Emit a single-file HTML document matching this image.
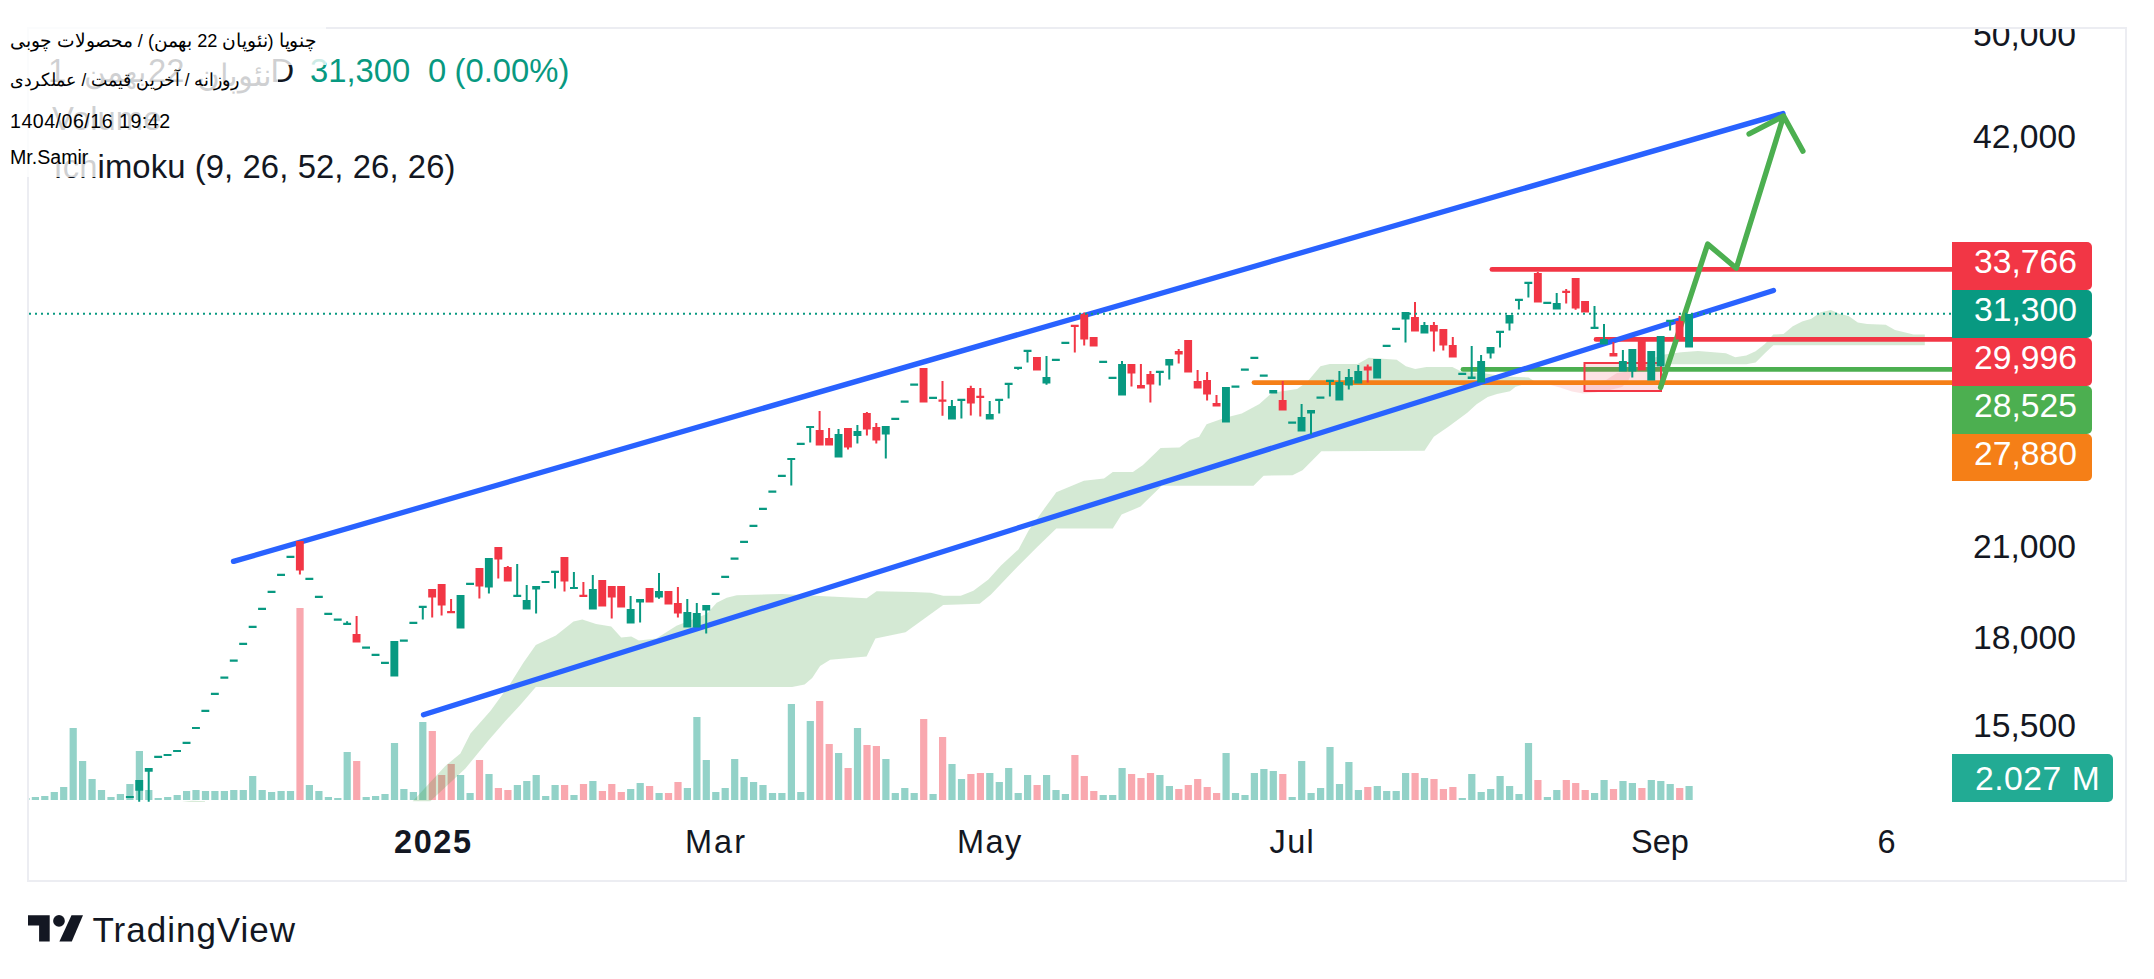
<!DOCTYPE html>
<html lang="en">
<head>
<meta charset="utf-8">
<title>TradingView chart</title>
<style>
html,body{margin:0;padding:0;background:#fff;}
body{width:2154px;height:979px;position:relative;overflow:hidden;font-family:"Liberation Sans",sans-serif;color:#131722;}
.chart{position:absolute;left:0;top:0;}
.t{position:absolute;white-space:nowrap;line-height:1;}
.ax{font-size:33.7px;left:1973px;}
.tag{position:absolute;left:1952px;width:140px;height:48px;border-radius:0 5px 5px 0;color:#fff;font-size:33.7px;line-height:1;}
.tag span{position:absolute;left:22px;top:3px;white-space:nowrap;}
.tm{font-size:32.5px;top:826px;}
.lg{font-size:32.8px;}
.ov{position:absolute;left:0;background:rgba(255,255,255,0.8);font-size:19.6px;line-height:1;white-space:nowrap;color:#000;}
.ov span{position:absolute;left:10px;white-space:nowrap;}
.clip{position:absolute;left:1900px;top:29px;width:226px;height:60px;overflow:hidden;}
</style>
</head>
<body>
<svg class="chart" width="2154" height="979" viewBox="0 0 2154 979">
<rect x="28" y="28" width="2098" height="853" fill="none" stroke="#ecedf2" stroke-width="2"/>
<path fill="#089981" fill-opacity="0.44" d="M29 798h0.6v2h-0.6zM31.8 797h7.2v3h-7.2zM41.2 796h7.2v4h-7.2zM50.7 792h7.2v8h-7.2zM60.1 787h7.2v13h-7.2zM69.6 728h7.2v72h-7.2zM79 761h7.2v39h-7.2zM88.5 779h7.2v21h-7.2zM97.9 790h7.2v10h-7.2zM107.4 797h7.2v3h-7.2zM116.8 794h7.2v6h-7.2zM126.3 784h7.2v16h-7.2zM135.8 751h7.2v49h-7.2zM145.2 790h7.2v10h-7.2zM154.6 798h7.2v2h-7.2zM164.1 797h7.2v3h-7.2zM173.6 795h7.2v5h-7.2zM183 791h7.2v9h-7.2zM192.4 790h7.2v10h-7.2zM201.9 791h7.2v9h-7.2zM211.3 791h7.2v9h-7.2zM220.8 791h7.2v9h-7.2zM230.2 790h7.2v10h-7.2zM239.7 790h7.2v10h-7.2zM249.1 776h7.2v24h-7.2zM258.6 790h7.2v10h-7.2zM268 792h7.2v8h-7.2zM277.5 791h7.2v9h-7.2zM286.9 791h7.2v9h-7.2zM305.8 785h7.2v15h-7.2zM315.3 791h7.2v9h-7.2zM324.8 797h7.2v3h-7.2zM334.2 798h7.2v2h-7.2zM343.6 752h7.2v48h-7.2zM362.6 797h7.2v3h-7.2zM372 796h7.2v4h-7.2zM381.4 794h7.2v6h-7.2zM390.9 743h7.2v57h-7.2zM400.3 789h7.2v11h-7.2zM409.8 792h7.2v8h-7.2zM419.2 722h7.2v78h-7.2zM457 775h7.2v25h-7.2zM466.5 793h7.2v7h-7.2zM485.4 774h7.2v26h-7.2zM513.8 785h7.2v15h-7.2zM523.2 781h7.2v19h-7.2zM532.6 775h7.2v25h-7.2zM542.1 796h7.2v4h-7.2zM551.5 785h7.2v15h-7.2zM570.4 795h7.2v5h-7.2zM589.3 781h7.2v19h-7.2zM627.1 789h7.2v11h-7.2zM636.6 783h7.2v17h-7.2zM655.5 793h7.2v7h-7.2zM683.8 788h7.2v12h-7.2zM693.3 717h7.2v83h-7.2zM702.7 760h7.2v40h-7.2zM712.2 792h7.2v8h-7.2zM721.6 788h7.2v12h-7.2zM731.1 759h7.2v41h-7.2zM740.5 777h7.2v23h-7.2zM750 782h7.2v18h-7.2zM759.4 785h7.2v15h-7.2zM768.9 793h7.2v7h-7.2zM778.3 793h7.2v7h-7.2zM787.8 704h7.2v96h-7.2zM797.2 792h7.2v8h-7.2zM806.7 721h7.2v79h-7.2zM835 753h7.2v47h-7.2zM853.9 728h7.2v72h-7.2zM882.3 759h7.2v41h-7.2zM891.7 793h7.2v7h-7.2zM901.2 788h7.2v12h-7.2zM910.6 793h7.2v7h-7.2zM929.5 794h7.2v6h-7.2zM948.4 764h7.2v36h-7.2zM957.9 779h7.2v21h-7.2zM986.2 773h7.2v27h-7.2zM995.7 782h7.2v18h-7.2zM1005.1 768h7.2v32h-7.2zM1014.6 793h7.2v7h-7.2zM1024 775h7.2v25h-7.2zM1043 775h7.2v25h-7.2zM1052.4 790h7.2v10h-7.2zM1061.8 794h7.2v6h-7.2zM1099.6 795h7.2v5h-7.2zM1109.1 795h7.2v5h-7.2zM1118.5 768h7.2v32h-7.2zM1156.3 775h7.2v25h-7.2zM1165.8 786h7.2v14h-7.2zM1222.5 753h7.2v47h-7.2zM1231.9 793h7.2v7h-7.2zM1241.4 795h7.2v5h-7.2zM1250.8 773h7.2v27h-7.2zM1260.3 769h7.2v31h-7.2zM1269.7 771h7.2v29h-7.2zM1288.6 797h7.2v3h-7.2zM1298.1 761h7.2v39h-7.2zM1307.5 793h7.2v7h-7.2zM1317 788h7.2v12h-7.2zM1326.4 747h7.2v53h-7.2zM1335.9 784h7.2v16h-7.2zM1345.3 762h7.2v38h-7.2zM1354.8 790h7.2v10h-7.2zM1373.7 786h7.2v14h-7.2zM1383.1 791h7.2v9h-7.2zM1392.6 791h7.2v9h-7.2zM1402 773h7.2v27h-7.2zM1420.9 778h7.2v22h-7.2zM1458.7 798h7.2v2h-7.2zM1468.2 774h7.2v26h-7.2zM1477.6 792h7.2v8h-7.2zM1487.1 789h7.2v11h-7.2zM1496.5 776h7.2v24h-7.2zM1506 786h7.2v14h-7.2zM1515.4 794h7.2v6h-7.2zM1524.9 743h7.2v57h-7.2zM1543.8 797h7.2v3h-7.2zM1553.2 790h7.2v10h-7.2zM1591 793h7.2v7h-7.2zM1600.5 780h7.2v20h-7.2zM1619.4 781h7.2v19h-7.2zM1628.8 783h7.2v17h-7.2zM1647.7 780h7.2v20h-7.2zM1657.2 781h7.2v19h-7.2zM1666.6 784h7.2v16h-7.2zM1685.5 786h7.2v14h-7.2z"/>
<path fill="#f23645" fill-opacity="0.43" d="M296.4 608h7.2v192h-7.2zM353.1 761h7.2v39h-7.2zM428.7 731h7.2v69h-7.2zM438.1 775h7.2v25h-7.2zM447.6 764h7.2v36h-7.2zM475.9 760h7.2v40h-7.2zM494.8 788h7.2v12h-7.2zM504.3 790h7.2v10h-7.2zM561 785h7.2v15h-7.2zM579.9 784h7.2v16h-7.2zM598.8 791h7.2v9h-7.2zM608.2 784h7.2v16h-7.2zM617.7 792h7.2v8h-7.2zM646 786h7.2v14h-7.2zM664.9 793h7.2v7h-7.2zM674.4 782h7.2v18h-7.2zM816.1 701h7.2v99h-7.2zM825.6 744h7.2v56h-7.2zM844.5 768h7.2v32h-7.2zM863.4 745h7.2v55h-7.2zM872.8 746h7.2v54h-7.2zM920.1 719h7.2v81h-7.2zM939 737h7.2v63h-7.2zM967.3 774h7.2v26h-7.2zM976.8 773h7.2v27h-7.2zM1033.5 785h7.2v15h-7.2zM1071.3 755h7.2v45h-7.2zM1080.7 776h7.2v24h-7.2zM1090.2 791h7.2v9h-7.2zM1128 774h7.2v26h-7.2zM1137.4 778h7.2v22h-7.2zM1146.9 773h7.2v27h-7.2zM1175.2 789h7.2v11h-7.2zM1184.7 785h7.2v15h-7.2zM1194.1 779h7.2v21h-7.2zM1203.6 787h7.2v13h-7.2zM1213 793h7.2v7h-7.2zM1279.2 774h7.2v26h-7.2zM1364.2 787h7.2v13h-7.2zM1411.5 773h7.2v27h-7.2zM1430.4 779h7.2v21h-7.2zM1439.8 789h7.2v11h-7.2zM1449.3 787h7.2v13h-7.2zM1534.3 780h7.2v20h-7.2zM1562.7 780h7.2v20h-7.2zM1572.1 783h7.2v17h-7.2zM1581.6 790h7.2v10h-7.2zM1609.9 789h7.2v11h-7.2zM1638.3 788h7.2v12h-7.2zM1676.1 788h7.2v12h-7.2z"/>
<path fill="#43a047" fill-opacity="0.23" d="M412.7 801.2 L445.3 766 L460.4 753.5 L470.5 733.4 L490.6 710.8 L510.7 683.1 L523.2 663 L535.8 644.9 L555.9 635.4 L573.5 621.6 L582.3 619.5 L596.1 624.1 L611.2 626.6 L621.2 637.4 L631.3 636.6 L638.8 640.4 L656.4 638.4 L676.5 625.8 L706.6 614 L716.7 602.7 L726.7 597.7 L736.8 595.2 L782 593.9 L819.7 595.9 L866.6 598.3 L876.6 591.3 L913.1 592 L930.7 592.8 L943.2 595.8 L960.8 595.8 L973.4 590.8 L988.4 579.4 L1001 565.6 L1018.6 549.3 L1028.6 530.5 L1041.2 512.9 L1056.3 492.3 L1083.9 480.7 L1104 478.4 L1112.8 471.9 L1132.9 471.9 L1143 465.1 L1160.6 448 L1179.4 447.5 L1189.4 440 L1199.1 436.8 L1206.6 424.2 L1224.2 417.9 L1241.8 413.4 L1259.4 404.1 L1272 392.8 L1297.1 389 L1307.1 382 L1320.4 366.2 L1329.7 364 L1357.6 364 L1368.8 357.8 L1396.7 359.7 L1405.9 366.2 L1415.2 369 L1426.4 367.1 L1452.4 367.1 L1461.7 371.8 L1485.9 373.6 L1504.5 376.4 L1528.6 377.4 L1534 381 L1534 381 L1528.6 382.9 L1515.6 386.7 L1510 391.3 L1497 394.1 L1487.7 396.9 L1476.6 404.3 L1467.3 412.7 L1448.7 426.6 L1433.8 436.8 L1424.5 450.8 L1321.4 451.3 L1302.5 470.2 L1292.5 475.2 L1263.6 475.7 L1253.5 485.7 L1161.8 485.7 L1140.5 506.6 L1121.6 514.6 L1112.8 528.4 L1056.3 528.4 L1036.2 548 L1013.6 570.7 L991 594.5 L979.6 603.8 L943.2 605.1 L905.5 632.2 L875.4 638.5 L866.6 656.6 L830.2 659.8 L820.1 666.1 L812.2 678.1 L804.6 684.4 L792.1 686.9 L535.8 686.9 L520.7 704.5 L505.6 720.8 L488 740.9 L465.4 768.5 L430.3 801.2Z"/>
<path fill="#43a047" fill-opacity="0.23" d="M1640 367 L1651.5 358.8 L1662.7 354.7 L1681.3 352.3 L1698 351 L1725.9 353.2 L1735.2 357.3 L1746.3 355.4 L1755.6 351.3 L1764.9 343.9 L1773.3 334.6 L1783.5 334.1 L1792.8 326.2 L1802.1 321.6 L1811.4 318.8 L1820.7 312.3 L1830.9 310.1 L1839.3 313.8 L1848.6 316 L1857.8 322.5 L1867.1 324 L1885.7 324.8 L1895 330 L1913.6 334.6 L1924.8 334.6 L1924.8 345.2 L1773.3 345.2 L1764.9 353.2 L1755.6 362.5 L1746.3 364.3 L1670 364.3 L1655 366 L1640 367Z"/>
<path fill="#f23645" fill-opacity="0.13" d="M1534 381 L1600 381 L1606 380 L1617 373 L1628 371.5 L1634 369 L1628 381 L1622 387 L1610 390 L1595 392.5 L1583 393.5 L1572 391.5 L1560 387.5 L1545 383.5Z"/>
<path fill="#43a047" fill-opacity="0.23" d="M182 801.8L192 800.7L205 801.2L205 801.9Z"/>
<g fill="none" stroke-linecap="round" stroke-linejoin="round">
<line x1="1463" y1="369.4" x2="1952" y2="369.4" stroke="#4caf50" stroke-width="4.8"/>
<rect x="1584.5" y="363" width="76.5" height="28" fill="#f23645" fill-opacity="0.14" stroke="#f23645" stroke-width="2" stroke-linejoin="miter"/>
<line x1="1254" y1="382.6" x2="1952" y2="382.6" stroke="#f57f17" stroke-width="4.8"/>
<line x1="1596" y1="339.4" x2="1952" y2="339.4" stroke="#f23645" stroke-width="4.7"/>
<line x1="1492" y1="269.4" x2="1952" y2="269.4" stroke="#f23645" stroke-width="4.9"/>
<line x1="233.5" y1="561.4" x2="1783" y2="113.5" stroke="#2962ff" stroke-width="5.3"/>
<line x1="423.5" y1="714.8" x2="1773.5" y2="290.5" stroke="#2962ff" stroke-width="5.3"/>
<path d="M1660.6 387.4L1707.7 244.1L1736.3 268.2L1783.6 116M1749.1 133.9L1783.6 116L1802.9 151.1" stroke="#4caf50" stroke-width="5.4"/>
</g>
<path fill="#089981" d="M125.9 795.9h7.9v2.2h-7.9zM138.2 780h2v21.7h-2zM135.3 780h7.9v10.8h-7.9zM147.7 768h2v33.7h-2zM144.8 768h7.9v3.7h-7.9zM154.2 755.7h7.9v2.2h-7.9zM163.6 753.9h7.9v2.2h-7.9zM173.1 749.9h7.9v2.2h-7.9zM182.6 741.7h7.9v2.2h-7.9zM192 726.9h7.9v2.2h-7.9zM201.4 709.7h7.9v2.2h-7.9zM210.9 692.7h7.9v2.2h-7.9zM220.4 676.6h7.9v2.2h-7.9zM229.8 659.6h7.9v2.2h-7.9zM239.2 642.7h7.9v2.2h-7.9zM248.7 625.7h7.9v2.2h-7.9zM258.1 607.7h7.9v2.2h-7.9zM267.6 590.7h7.9v2.2h-7.9zM277.1 573.7h7.9v2.2h-7.9zM286.5 555.7h7.9v2.2h-7.9zM305.4 577.7h7.9v2.2h-7.9zM314.9 595.7h7.9v2.2h-7.9zM324.3 612.7h7.9v2.2h-7.9zM333.8 618.5h7.9v2.2h-7.9zM346.1 621.3h2v3.6h-2zM343.2 622.7h7.9v2.2h-7.9zM362.1 646.5h7.9v2.2h-7.9zM371.6 653.7h7.9v2.2h-7.9zM381 661.7h7.9v2.2h-7.9zM390.4 641h7.9v35.6h-7.9zM399.9 639.6h7.9v2.2h-7.9zM409.4 621.7h7.9v2.2h-7.9zM421.8 605.7h2v13.9h-2zM418.8 605.7h7.9v2.2h-7.9zM456.6 595h7.9v33.6h-7.9zM466.1 582.7h7.9v2.2h-7.9zM487.9 558h2v35.6h-2zM484.9 558h7.9v29.6h-7.9zM516.2 564h2v32.9h-2zM513.3 594.7h7.9v2.2h-7.9zM525.7 585h2v24.6h-2zM522.7 600h7.9v9.6h-7.9zM535.1 586h2v27.6h-2zM532.2 586h7.9v3.6h-7.9zM541.6 580.9h7.9v2.2h-7.9zM554 570.7h2v17.9h-2zM551.1 570.7h7.9v2.2h-7.9zM572.9 572h2v17.1h-2zM570 586.9h7.9v2.2h-7.9zM591.8 575h2v34.6h-2zM588.9 589h7.9v20.6h-7.9zM629.6 596h2v27.6h-2zM626.7 609h7.9v14.6h-7.9zM639.1 599h2v23.6h-2zM636.1 599h7.9v3.6h-7.9zM658 573h2v25.8h-2zM655 591h7.9v6.6h-7.9zM686.3 599h2v28.6h-2zM683.4 612h7.9v15.6h-7.9zM695.8 603h2v24.6h-2zM692.8 613h7.9v14.6h-7.9zM705.2 605h2v28.6h-2zM702.3 605h7.9v5.6h-7.9zM711.7 592.7h7.9v2.2h-7.9zM721.2 575.7h7.9v2.2h-7.9zM730.6 557.6h7.9v2.2h-7.9zM740.1 540.7h7.9v2.2h-7.9zM749.5 524.7h7.9v2.2h-7.9zM759 507.7h7.9v2.2h-7.9zM768.4 490.5h7.9v2.2h-7.9zM777.9 474.7h7.9v2.2h-7.9zM790.3 457.9h2v27.7h-2zM787.3 457.9h7.9v2.2h-7.9zM796.8 442.7h7.9v2.2h-7.9zM809.2 425.9h2v16.7h-2zM806.2 425.9h7.9v2.2h-7.9zM837.5 429h2v28.6h-2zM834.6 434h7.9v23.6h-7.9zM856.4 425h2v18.6h-2zM853.5 431h7.9v5h-7.9zM884.8 426h2v32.6h-2zM881.8 426h7.9v8.6h-7.9zM891.3 417.7h7.9v2.2h-7.9zM900.7 400.6h7.9v2.2h-7.9zM910.2 383.6h7.9v2.2h-7.9zM929.1 396.7h7.9v2.2h-7.9zM950.9 400h2v19.6h-2zM948 406h7.9v13.6h-7.9zM960.4 398.7h2v19.9h-2zM957.4 398.7h7.9v2.2h-7.9zM988.7 401h2v18.6h-2zM985.8 414h7.9v5.6h-7.9zM998.2 398.7h2v14.9h-2zM995.2 398.7h7.9v2.2h-7.9zM1007.6 382.7h2v15.9h-2zM1004.7 382.7h7.9v2.2h-7.9zM1017.1 366.7h2v3.1h-2zM1014.1 366.7h7.9v2.2h-7.9zM1026.5 349.7h2v12.9h-2zM1023.6 349.7h7.9v2.2h-7.9zM1045.5 356h2v28.8h-2zM1042.5 377h7.9v6.6h-7.9zM1051.9 358.7h7.9v2.2h-7.9zM1061.4 341.7h7.9v2.2h-7.9zM1099.2 360.7h7.9v2.2h-7.9zM1108.6 376.7h7.9v2.2h-7.9zM1121 361h2v34.6h-2zM1118.1 364h7.9v31.6h-7.9zM1158.8 370.7h2v14.9h-2zM1155.9 370.7h7.9v2.2h-7.9zM1168.3 359h2v20.6h-2zM1165.3 359h7.9v6.6h-7.9zM1222 387h7.9v35.6h-7.9zM1231.5 385.5h7.9v2.2h-7.9zM1240.9 368.5h7.9v2.2h-7.9zM1250.4 356.7h7.9v2.2h-7.9zM1259.8 374.5h7.9v2.2h-7.9zM1269.3 390h7.9v3.6h-7.9zM1288.2 421.5h7.9v2.2h-7.9zM1300.6 404h2v27.6h-2zM1297.6 417h7.9v14.6h-7.9zM1310 410h2v24.4h-2zM1307.1 410h7.9v3.6h-7.9zM1316.5 396.5h7.9v2.2h-7.9zM1328.9 379.7h2v16.9h-2zM1326 379.7h7.9v2.2h-7.9zM1338.4 371h2v29.6h-2zM1335.4 382h7.9v18.6h-7.9zM1347.8 369h2v20.6h-2zM1344.9 377h7.9v8.6h-7.9zM1357.3 365h2v18.6h-2zM1354.3 371h7.9v12.6h-7.9zM1373.2 359h7.9v19.6h-7.9zM1382.7 344.7h7.9v2.2h-7.9zM1392.1 327.7h7.9v2.2h-7.9zM1404.5 312h2v30.6h-2zM1401.6 312h7.9v7.6h-7.9zM1423.4 322h2v11.6h-2zM1420.5 325h7.9v8.6h-7.9zM1458.3 372.7h7.9v2.2h-7.9zM1470.7 346h2v33h-2zM1467.7 376.4h7.9v2.6h-7.9zM1480.1 355h2v27.6h-2zM1477.2 361h7.9v21.6h-7.9zM1489.6 347h2v11.6h-2zM1486.6 347h7.9v6.6h-7.9zM1499 330.7h2v16.9h-2zM1496.1 330.7h7.9v2.2h-7.9zM1508.5 315h2v15.6h-2zM1505.5 315h7.9v8.6h-7.9zM1517.9 298.7h2v10.9h-2zM1515 298.7h7.9v2.2h-7.9zM1527.4 281.7h2v15.9h-2zM1524.4 281.7h7.9v2.2h-7.9zM1543.3 301.7h7.9v2.2h-7.9zM1555.7 293h2v16.6h-2zM1552.8 303h7.9v6.6h-7.9zM1593.5 306h2v22.9h-2zM1590.6 326.7h7.9v2.2h-7.9zM1603 324h2v20.6h-2zM1600 339h7.9v5.6h-7.9zM1621.9 350h2v21.6h-2zM1618.9 361h7.9v10.6h-7.9zM1631.3 349h2v28.6h-2zM1628.4 349h7.9v22.6h-7.9zM1647.3 351h7.9v29.6h-7.9zM1656.7 336h7.9v30.6h-7.9zM1669.1 319.7h2v10.9h-2zM1666.2 319.7h7.9v2.2h-7.9zM1685.1 314h7.9v33.6h-7.9z"/>
<path fill="#f23645" d="M298.9 541h2v33.4h-2zM295.9 541h7.9v29.4h-7.9zM355.6 616h2v26.4h-2zM352.6 634h7.9v8.4h-7.9zM431.2 589h2v28.6h-2zM428.2 589h7.9v8.6h-7.9zM440.6 584h2v31.6h-2zM437.7 584h7.9v21.6h-7.9zM450.1 599h2v14.3h-2zM447.1 611.1h7.9v2.2h-7.9zM478.4 568h2v30.6h-2zM475.5 568h7.9v18.6h-7.9zM497.3 547h2v31.6h-2zM494.4 547h7.9v12.6h-7.9zM506.8 566h2v15.6h-2zM503.8 567h7.9v14.6h-7.9zM563.5 557h2v34.6h-2zM560.5 557h7.9v24.6h-7.9zM582.4 582h2v14.9h-2zM579.4 594.7h7.9v2.2h-7.9zM598.3 580h7.9v26.6h-7.9zM610.7 586h2v32.6h-2zM607.8 586h7.9v11.6h-7.9zM617.2 586h7.9v21.6h-7.9zM645.6 588h7.9v14.6h-7.9zM664.5 591h7.9v13.6h-7.9zM676.9 587h2v30.6h-2zM673.9 603h7.9v10.6h-7.9zM818.6 411h2v34.6h-2zM815.7 430h7.9v15.6h-7.9zM828.1 428h2v17.6h-2zM825.1 438h7.9v7.6h-7.9zM847 428h2v21.6h-2zM844 428h7.9v19.6h-7.9zM865.9 412h2v23.6h-2zM862.9 413h7.9v16.6h-7.9zM875.3 423h2v20.6h-2zM872.4 427h7.9v13.6h-7.9zM919.6 368h7.9v34.6h-7.9zM941.5 381h2v34.8h-2zM938.5 399.6h7.9v2.2h-7.9zM969.8 385.8h2v29.8h-2zM966.9 388h7.9v15.6h-7.9zM979.3 388h2v28.6h-2zM976.3 395.7h7.9v2.2h-7.9zM1033 357h7.9v13.6h-7.9zM1073.8 324.7h2v27.9h-2zM1070.8 324.7h7.9v2.2h-7.9zM1083.2 312.4h2v33.2h-2zM1080.3 314h7.9v25.6h-7.9zM1089.7 337h7.9v9.6h-7.9zM1130.5 364h2v22.6h-2zM1127.5 364h7.9v9.6h-7.9zM1139.9 364h2v24.6h-2zM1137 385h7.9v3.6h-7.9zM1149.4 371h2v31.6h-2zM1146.4 374h7.9v10.6h-7.9zM1177.7 349h2v14.6h-2zM1174.8 351h7.9v3.6h-7.9zM1184.2 340h7.9v32.6h-7.9zM1196.6 370h2v18.6h-2zM1193.7 381h7.9v7.6h-7.9zM1206.1 372h2v28.6h-2zM1203.1 380h7.9v14.6h-7.9zM1215.5 395h2v11.6h-2zM1212.6 403h7.9v3.6h-7.9zM1281.7 381h2v29.6h-2zM1278.7 400h7.9v10.6h-7.9zM1366.7 364.6h2v18h-2zM1363.8 366.4h7.9v4.2h-7.9zM1414 302h2v29.6h-2zM1411 317h7.9v14.6h-7.9zM1432.9 322h2v29.6h-2zM1429.9 325h7.9v6.6h-7.9zM1442.3 329h2v21.6h-2zM1439.4 329h7.9v16.6h-7.9zM1451.8 337h2v20.6h-2zM1448.8 345h7.9v12.6h-7.9zM1536.8 272h2v30.6h-2zM1533.9 273h7.9v29.6h-7.9zM1565.2 289h2v14.6h-2zM1562.2 290.7h7.9v2.2h-7.9zM1574.6 278h2v31.8h-2zM1571.7 278h7.9v30.6h-7.9zM1581.1 301h7.9v11.6h-7.9zM1612.4 342h2v14.6h-2zM1609.5 353h7.9v3.6h-7.9zM1637.8 340h7.9v30.6h-7.9zM1678.6 316h2v23.6h-2zM1675.6 321h7.9v18.6h-7.9z"/>
<line x1="29" y1="313.8" x2="1952" y2="313.8" stroke="#089981" stroke-width="2" stroke-dasharray="2 4"/>
</svg>
<div class="clip"><div class="t ax" style="left:73px;top:-11px;">50,000</div></div>
<div class="t ax" style="top:119.8px;">42,000</div>
<div class="t ax" style="top:530px;">21,000</div>
<div class="t ax" style="top:621px;">18,000</div>
<div class="t ax" style="top:709px;">15,500</div>
<div class="tag" style="top:242px;background:#f23645;"><span>33,766</span></div>
<div class="tag" style="top:290px;background:#089981;"><span>31,300</span></div>
<div class="tag" style="top:338px;background:#f23645;"><span>29,996</span></div>
<div class="tag" style="top:386px;background:#4caf50;"><span>28,525</span></div>
<div class="tag" style="top:434px;height:47px;background:#f57f17;"><span>27,880</span></div>
<div class="tag" style="top:753.5px;width:160.5px;height:48.5px;background:#22ab94;"><span style="left:23px;top:8px;letter-spacing:0.5px;">2.027 M</span></div>
<div class="t tm" style="left:394px;font-weight:bold;letter-spacing:1.6px;">2025</div>
<div class="t tm" style="left:685px;letter-spacing:2px;">Mar</div>
<div class="t tm" style="left:957px;letter-spacing:1.4px;">May</div>
<div class="t tm" style="left:1269.5px;letter-spacing:1.4px;">Jul</div>
<div class="t tm" style="left:1631px;">Sep</div>
<div class="t tm" style="left:1877.5px;">6</div>
<div class="t lg" style="left:48px;top:55px;">1</div>
<div class="t lg" lang="fa" style="left:84px;top:57px;font-size:30px;">بهمن</div>
<div class="t lg" style="left:148px;top:55px;">22</div>
<div class="t lg" lang="fa" style="left:197px;top:60px;font-size:31px;">نئوپان</div>
<div class="t lg" style="left:270.5px;top:55px;">D</div>
<div class="t lg" style="left:310px;top:55px;color:#089981;">31,300</div>
<div class="t lg" style="left:428px;top:55px;color:#089981;">0</div>
<div class="t lg" style="left:454.6px;top:55px;color:#089981;">(0.00%)</div>
<div class="t lg" style="left:52px;top:103px;">Volume</div>
<div class="t lg" style="left:53.5px;top:151px;letter-spacing:0.1px;">Ichimoku (9, 26, 52, 26, 26)</div>
<div class="ov" style="top:20px;width:326px;height:45px;"><span dir="rtl" lang="fa" style="top:12px;font-size:18.5px;transform:scaleX(0.981);transform-origin:0 0;">چنوپا (نئوپان 22 بهمن) / محصولات چوبی</span></div>
<div class="ov" style="top:65px;width:278px;height:37px;"><span dir="rtl" lang="fa" style="top:7px;font-size:17.8px;transform:scaleX(0.967);transform-origin:0 0;">روزانه / آخرین قیمت / عملکردی</span></div>
<div class="ov" style="top:102px;width:183px;height:38px;"><span style="top:9.5px;letter-spacing:0.5px;">1404/06/16 19:42</span></div>
<div class="ov" style="top:140px;width:99px;height:37px;"><span style="top:8px;">Mr.Samir</span></div>
<svg class="t" style="left:28px;top:915px;" width="56" height="27" viewBox="0 0 56 27"><path fill="#131722" d="M0 0.3H21.7V26.5H11.1V10.5H0Z"/><circle cx="31" cy="5.9" r="5.85" fill="#131722"/><path fill="#131722" d="M43.5 0.3H55L43.8 26.5H31.4Z"/></svg>
<div class="t" style="left:92.5px;top:912px;font-size:35px;letter-spacing:1px;">TradingView</div>
</body>
</html>
